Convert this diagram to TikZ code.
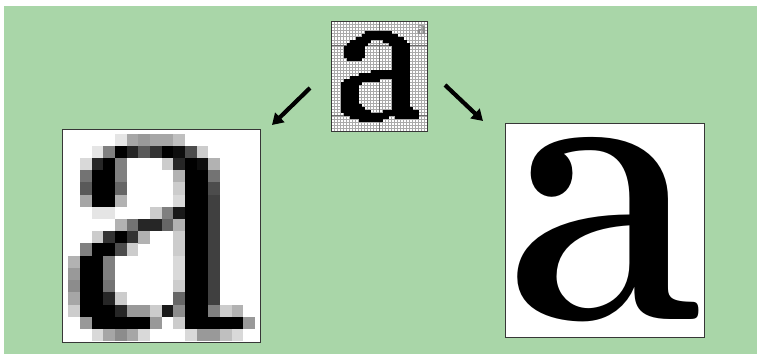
\documentclass[tikz,border=0pt]{standalone}
\usepackage{fontspec}
\usepackage{tikz}
\usetikzlibrary{arrows.meta, positioning}
\newfontfamily\glyphserif{Liberation Serif}
\definecolor{leafbg}{RGB}{169,214,168}
\definecolor{framegray}{RGB}{55,55,55}
\definecolor{gridline}{RGB}{170,170,170}
\definecolor{guideline}{RGB}{110,110,110}
\tikzset{
  framebox/.style={draw=framegray, line width=0.9pt, fill=white, inner sep=0pt, outer sep=0pt},
  bigarrow/.style={line width=4.2pt, -{Triangle[length=11pt,width=13pt]}},
}

\begin{document}
\begin{tikzpicture}[x=1pt, y=-1pt]
  \useasboundingbox (0,0) rectangle (757,363);
  % Green panel
  \fill[leafbg] (4,6) rectangle (757,354);
  % Frames
  \node[framebox, minimum width=96pt, minimum height=109.5pt] (grid) at (379.5,76.25) {};
  \node[framebox, minimum width=198pt, minimum height=213pt] (pix) at (161,235.5) {};
  \node[framebox, minimum width=199pt, minimum height=214pt] (vec) at (604.5,230) {};
  % Bitmap grid (top)
  \begin{scope}
    \clip (grid.north west) rectangle (grid.south east);
    \foreach \i in {1,...,31}
      \draw[gridline, line width=0.45pt] (331.5+3*\i,21.5) -- ++(0,109.5);
    \foreach \j in {1,...,35}
      \draw[gridline, line width=0.45pt] (331.5,21.5+3.04*\j) -- ++(96,0);
    \draw[guideline, line width=0.6pt] (379.5,21.5) -- ++(0,109.5);
    \draw[guideline, line width=0.6pt] (331.5,45.8) -- ++(96,0);
    \draw[guideline, line width=0.6pt] (331.5,115.7) -- ++(96,0);
    % Black pixels, row / runs of columns
    \foreach \r/\runs in {3/{11/19}, 4/{10/21}, 5/{8/23}, 6/{6/12,17/24},
        7/{5/11,19/25}, 8/{4/10,20/25}, 9/{4/10,20/25}, 10/{4/10,20/25},
        11/{4/10,20/25}, 12/{5/9,20/25}, 13/{20/25}, 14/{20/25}, 15/{20/25},
        16/{13/25}, 17/{9/25}, 18/{6/25}, 19/{4/15,20/25}, 20/{3/9,20/25},
        21/{3/8,20/25}, 22/{3/8,20/25}, 23/{3/8,20/25}, 24/{3/8,20/25},
        25/{3/8,20/25}, 26/{3/8,20/25}, 27/{3/9,20/25}, 28/{3/10,20/26},
        29/{3/12,17/28}, 30/{4/28}, 31/{6/18,21/28}, 32/{9/16}}
      \foreach \a/\b in \runs
        \fill[black] (331.5+3*\a,21.5+3.04*\r) rectangle (334.5+3*\b,24.54+3.04*\r);
  \end{scope}
  \node[text=black!45, font=\glyphserif\bfseries\fontsize{19}{19}\selectfont, inner sep=0pt] (mark) at (421.5,30.5) {a};
  % Blurred low-resolution letter (left)
  \begin{scope}
    \clip (pix.north west) rectangle (pix.south east);
    \foreach \r/\cells in {
        0/{4/10,5/35,6/40,7/35,8/35,9/25},
        1/{2/10,3/50,4/100,5/85,6/65,7/80,8/100,9/95,10/70,11/20},
        2/{1/15,2/85,3/100,4/50,8/20,9/85,10/100,11/95,12/30},
        3/{1/55,2/100,3/100,4/50,9/30,10/100,11/100,12/55},
        4/{1/65,2/100,3/100,4/60,9/20,10/100,11/100,12/70},
        5/{1/35,2/100,3/100,4/30,9/15,10/100,11/100,12/75},
        6/{2/10,3/10,7/20,8/50,9/90,10/100,11/100,12/75},
        7/{4/30,5/55,6/85,7/85,8/60,9/30,10/100,11/100,12/75},
        8/{2/20,3/80,4/100,5/80,6/30,9/20,10/100,11/100,12/75},
        9/{1/50,2/100,3/100,4/70,5/20,9/20,10/100,11/100,12/75},
        10/{0/30,1/100,2/100,3/50,9/15,10/100,11/100,12/75},
        11/{0/40,1/100,2/100,3/50,9/15,10/100,11/100,12/75},
        12/{0/45,1/100,2/100,3/55,9/20,10/100,11/100,12/75},
        13/{0/35,1/100,2/100,3/85,4/20,9/60,10/100,11/100,12/75},
        14/{0/20,1/100,2/100,3/100,4/85,5/40,6/40,7/20,8/90,9/45,10/100,11/100,12/50,13/20,14/30},
        15/{1/40,2/100,3/100,4/100,5/100,6/100,7/40,9/20,10/100,11/100,12/100,13/100,14/100,15/40},
        16/{2/15,3/35,4/45,5/35,6/15,10/15,11/40,12/40,13/25,14/15}}
      \foreach \c/\v in \cells
        \fill[black!\v] (68.3+11.67*\c,133.7+12.2*\r) rectangle ++(11.8,12.35);
  \end{scope}
  % Smooth letter (right)
  \node[inner sep=0pt, font=\fontsize{402}{402}\selectfont\bfseries] (glyph) at (604,230) {\scalebox{0.88}[1]{a}};
  % Frames on top
  \foreach \b in {grid,pix,vec}
    \draw[framegray, line width=0.9pt] (\b.north west) rectangle (\b.south east);
  % Arrows
  \coordinate (ltail) at (310,88);
  \coordinate (lhead) at (272,125);
  \coordinate (rtail) at (445,85);
  \coordinate (rhead) at (483,121);
  \draw[bigarrow] (ltail) -- (lhead);
  \draw[bigarrow] (rtail) -- (rhead);
\end{tikzpicture}
\end{document}
